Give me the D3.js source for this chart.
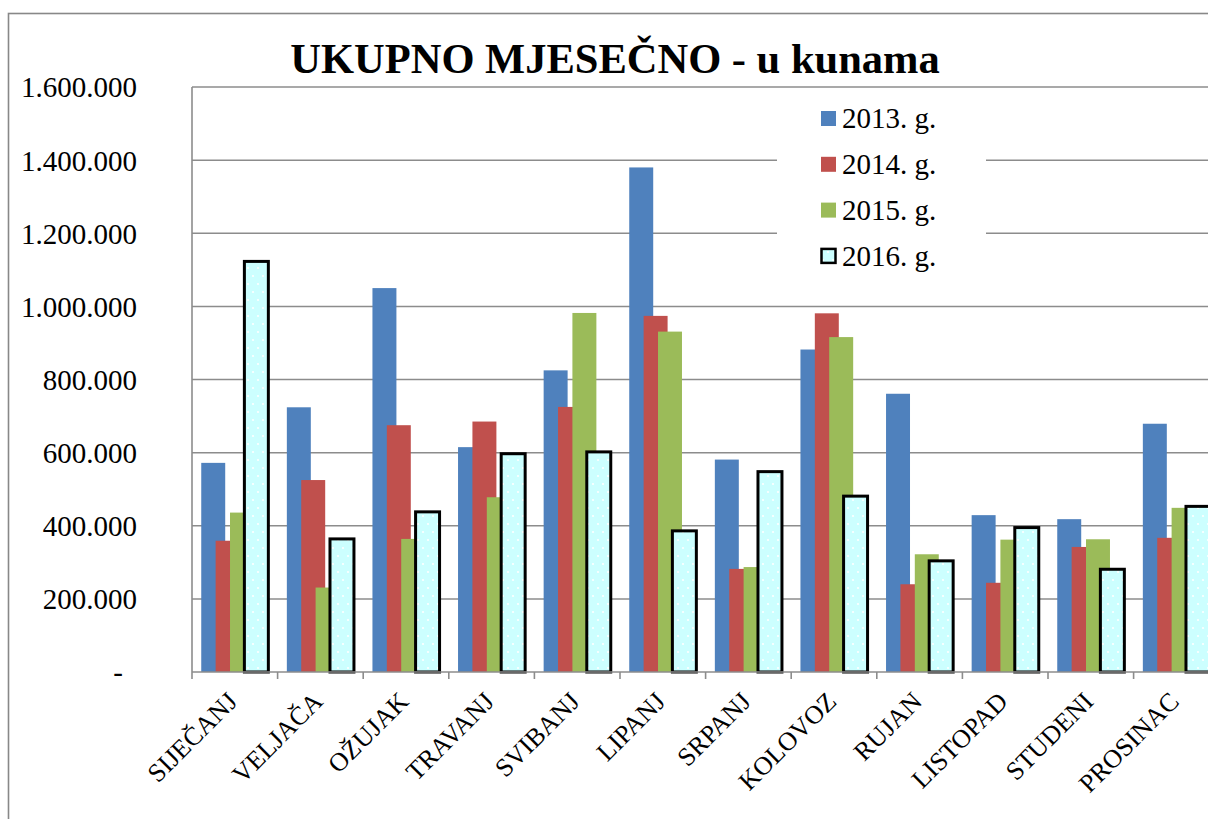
<!DOCTYPE html>
<html>
<head>
<meta charset="utf-8">
<script src="https://cdn.jsdelivr.net/npm/d3@7"></script>
<style>
  html, body { margin: 0; padding: 0; background: #fff; }
  svg { display: block; }
</style>
</head>
<body>
<svg id="chart" width="1208" height="819"></svg>
<script>
// Monthly totals in kuna, one array per year
const months = ["SIJEČANJ", "VELJAČA", "OŽUJAK", "TRAVANJ", "SVIBANJ", "LIPANJ",
                "SRPANJ", "KOLOVOZ", "RUJAN", "LISTOPAD", "STUDENI", "PROSINAC"];
const seriesNames = ["2013. g.", "2014. g.", "2015. g.", "2016. g."];
const values2013 = [572000, 724000, 1050000, 615000, 825000, 1380000, 581000, 882000, 761000, 429000, 418000, 679000];
const values2014 = [359000, 525000, 675000, 685000, 725000, 974000, 282000, 981000, 240000, 244000, 342000, 367000];
const values2015 = [436000, 231000, 364000, 478000, 982000, 931000, 287000, 916000, 322000, 362000, 363000, 449000];
const values2016 = [1123000, 364000, 438000, 597000, 602000, 386000, 548000, 481000, 304000, 395000, 281000, 453000];
const yTicks = [0, 200000, 400000, 600000, 800000, 1000000, 1200000, 1400000, 1600000];
const chartTitle = "UKUPNO MJESEČNO - u kunama";

const seriesValues = [values2013, values2014, values2015, values2016];
const fills = ["#4F81BD", "#C0504D", "#9BBB59", "url(#dots)"];
const FONT = "Liberation Serif";

const svg = d3.select("#chart");
const W = 1208, H = 819;
const plot = { left: 192, top: 87, bottom: 672, band: 85.6 };

// Pattern for the 2016 bars: pale cyan with small white dots
const defs = svg.append("defs");
const pat = defs.append("pattern").attr("id", "dots")
  .attr("patternUnits", "userSpaceOnUse").attr("width", 10).attr("height", 16);
pat.append("rect").attr("width", 10).attr("height", 16).attr("fill", "#CCFFFF");
pat.append("circle").attr("cx", 3).attr("cy", 4).attr("r", 1.1).attr("fill", "#fff");
pat.append("circle").attr("cx", 8).attr("cy", 12).attr("r", 1.1).attr("fill", "#fff");

svg.append("rect").attr("width", W).attr("height", H).attr("fill", "#fff");

// Outer chart frame (continues past the right and bottom edges)
svg.append("rect")
  .attr("x", 8.5).attr("y", 13.5).attr("width", W + 20).attr("height", H + 20)
  .attr("fill", "none").attr("stroke", "#888").attr("stroke-width", 1.6);

const x = d3.scaleBand()
  .domain(months)
  .range([plot.left, plot.left + plot.band * months.length])
  .paddingInner(0).paddingOuter(0);

const y = d3.scaleLinear().domain([0, 1600000]).range([plot.bottom, plot.top]);

// Bars overlap within a group: each bar 0.28 of the band, stepping 0.168
const barW = x.bandwidth() * 0.28;
const step = x.bandwidth() * 0.168;
const groupW = step * 3 + barW;
const seriesX = d3.scaleLinear().domain([0, 3])
  .range([(x.bandwidth() - groupW) / 2, (x.bandwidth() - groupW) / 2 + step * 3]);

const fmt = d3.formatLocale({ decimal: ",", thousands: ".", grouping: [3], currency: ["", ""] }).format(",");

// Horizontal gridlines
svg.append("g").selectAll("line").data(yTicks.filter(d => d > 0)).join("line")
  .attr("x1", plot.left).attr("x2", W + 10)
  .attr("y1", d => y(d)).attr("y2", d => y(d))
  .attr("stroke", "#8c8c8c").attr("stroke-width", 1.5);

// Y axis labels
const yAxis = d3.axisLeft(y).tickValues(yTicks)
  .tickFormat(d => d === 0 ? "-" : fmt(d)).tickSize(0).tickPadding(0);
const gy = svg.append("g").attr("transform", `translate(137,0)`).call(yAxis);
gy.attr("font-family", FONT).attr("font-size", 29);
gy.select(".domain").remove();
gy.selectAll("text")
  .attr("font-family", FONT)
  .attr("font-size", 29).attr("fill", "#000")
  .attr("dy", "0.34em")
  .attr("dx", d => d === 0 ? -14 : 0);

// Bars
const bars = svg.append("g");
seriesValues.forEach((vals, si) => {
  bars.append("g").selectAll("rect").data(vals).join("rect")
    .attr("x", (d, i) => x(months[i]) + seriesX(si))
    .attr("y", d => y(d))
    .attr("width", barW)
    .attr("height", d => y(0) - y(d))
    .attr("fill", fills[si])
    .attr("stroke", si === 3 ? "#000" : "none")
    .attr("stroke-width", si === 3 ? 3 : 0);
});

// Axis lines and category tick marks
const ax = svg.append("g").attr("stroke", "#8c8c8c").attr("stroke-width", 1.6);
ax.append("line").attr("x1", plot.left).attr("x2", plot.left)
  .attr("y1", plot.top).attr("y2", plot.bottom + 7);
ax.append("line").attr("x1", plot.left).attr("x2", W + 10)
  .attr("y1", plot.bottom).attr("y2", plot.bottom);
ax.selectAll("line.tick").data(months.slice(1)).join("line")
  .attr("class", "tick")
  .attr("x1", d => x(d)).attr("x2", d => x(d))
  .attr("y1", plot.bottom).attr("y2", plot.bottom + 7);

// Rotated category labels
svg.append("g").selectAll("text").data(months).join("text")
  .attr("transform", d => `translate(${x(d) + x.bandwidth() / 2 + 4},${plot.bottom + 31}) rotate(-45)`)
  .attr("text-anchor", "end")
  .attr("font-family", FONT)
  .attr("font-size", 26)
  .text(d => d);

// Legend with white backing
const lg = svg.append("g");
lg.append("rect").attr("x", 777).attr("y", 93).attr("width", 209).attr("height", 186).attr("fill", "#fff");
seriesNames.forEach((name, i) => {
  const cy = 118.5 + i * 45.8;
  lg.append("rect")
    .attr("x", i === 3 ? 821.5 : 821).attr("y", cy - 7.5 + (i === 3 ? 0.5 : 0))
    .attr("width", i === 3 ? 14 : 15).attr("height", i === 3 ? 14 : 15)
    .attr("fill", fills[i])
    .attr("stroke", i === 3 ? "#000" : "none")
    .attr("stroke-width", i === 3 ? 2.5 : 0);
  lg.append("text").attr("x", 842).attr("y", cy).attr("dy", "0.34em")
    .attr("font-family", FONT)
    .attr("font-size", 29).text(name);
});

// Title
svg.append("text")
  .attr("x", 615).attr("y", 73)
  .attr("text-anchor", "middle")
  .attr("font-family", FONT)
  .attr("font-size", 42.5).attr("font-weight", "bold")
  .text(chartTitle);
</script>
</body>
</html>
